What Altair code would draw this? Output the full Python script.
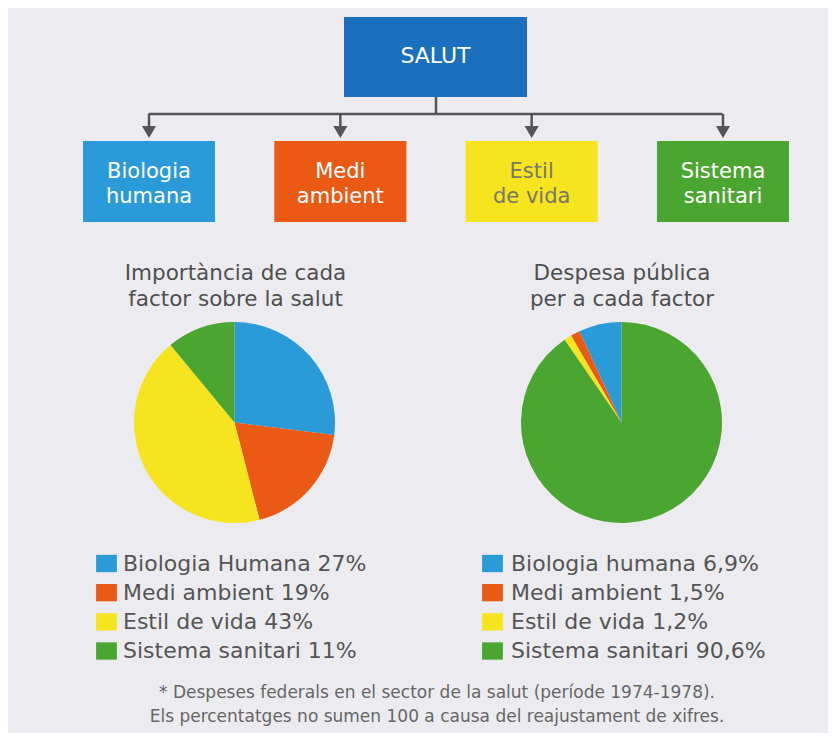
import altair as alt
import pandas as pd

# ---------------- data ----------------
root_label = "SALUT"
factors = ["Biologia humana", "Medi ambient", "Estil de vida", "Sistema sanitari"]
box_labels = ["Biologia\nhumana", "Medi\nambient", "Estil\nde vida", "Sistema\nsanitari"]

importance_labels = ["Biologia Humana", "Medi ambient", "Estil de vida", "Sistema sanitari"]
importance_pct = [27, 19, 43, 11]

spending_labels = ["Biologia humana", "Medi ambient", "Estil de vida", "Sistema sanitari"]
spending_pct = [6.9, 1.5, 1.2, 90.6]

left_title = "Importància de cada\nfactor sobre la salut"
right_title = "Despesa pública\nper a cada factor"
footnote = ("* Despeses federals en el sector de la salut (període 1974-1978).\n"
            "Els percentatges no sumen 100 a causa del reajustament de xifres.")

# ---------------- style ----------------
palette = ["#2b9ad8", "#ea5a15", "#f6e41e", "#4ba631"]
root_color = "#1a6fbe"
line_color = "#555555"
text_gray = "#4f4f4f"
FONT = "DejaVu Sans"
LEGEND_SHAPE = "M-1.2,-1H1.2V1H-1.2Z"


def fmt(v):
    return f"{v:g}".replace(".", ",")


color_enc = alt.Color("factor:N", scale=alt.Scale(domain=factors, range=palette), legend=None)
x_band = alt.X("factor:N", scale=alt.Scale(type="band", domain=factors, range=[75, 781],
                                           paddingInner=0.31, paddingOuter=0), axis=None)
x_mid = alt.X("factor:N", bandPosition=0.5,
              scale=alt.Scale(type="band", domain=factors, range=[75, 781],
                              paddingInner=0.31, paddingOuter=0), axis=None)
y_row = alt.Y("row:O", scale=alt.Scale(type="point", domain=[0, 1, 2, 3], range=[555.5, 643], padding=0),
              axis=None)

root_df = pd.DataFrame({"label": [root_label]})
factor_df = pd.DataFrame({"factor": factors, "label": box_labels})

# ---- tree diagram ----
root_box = alt.Chart(root_df).mark_rect(color=root_color).encode(
    x=alt.value(336), x2=alt.value(519), y=alt.value(9), y2=alt.value(89))
root_text = alt.Chart(root_df).mark_text(font=FONT, fontSize=22, color="white", baseline="middle").encode(
    x=alt.value(427.5), y=alt.value(48), text="label:N")
root_stem = alt.Chart(root_df).mark_rule(color=line_color, strokeWidth=2.5).encode(
    x=alt.value(428), y=alt.value(89), y2=alt.value(106))
hline = alt.Chart(root_df).mark_rule(color=line_color, strokeWidth=2.5).encode(
    x=alt.value(140.5), x2=alt.value(714.5), y=alt.value(106))
stems = alt.Chart(factor_df).mark_rule(color=line_color, strokeWidth=2.5).encode(
    x=x_mid, y=alt.value(106), y2=alt.value(118))
arrows = alt.Chart(factor_df).mark_point(shape="triangle-down", filled=True, size=200,
                                         color=line_color, opacity=1).encode(
    x=x_mid, y=alt.value(124))
boxes = alt.Chart(factor_df).mark_rect().encode(
    x=x_band, y=alt.value(133), y2=alt.value(214), color=color_enc)
box_text = alt.Chart(factor_df).mark_text(font=FONT, fontSize=21, lineBreak="\n", lineHeight=25,
                                          baseline="middle").encode(
    x=x_mid, y=alt.value(164), text="label:N",
    color=alt.when(alt.datum.factor == "Estil de vida").then(alt.value("#77776a")).otherwise(alt.value("white")))

# ---- titles ----
ltitle = alt.Chart(pd.DataFrame({"t": [left_title]})).mark_text(
    font=FONT, fontSize=21.5, lineBreak="\n", lineHeight=26, color=text_gray, baseline="middle").encode(
    x=alt.value(227.5), y=alt.value(266), text="t:N")
rtitle = alt.Chart(pd.DataFrame({"t": [right_title]})).mark_text(
    font=FONT, fontSize=21.5, lineBreak="\n", lineHeight=26, color=text_gray, baseline="middle").encode(
    x=alt.value(614), y=alt.value(266), text="t:N")

# ---- pies ----
left_df = pd.DataFrame({"factor": factors, "pct": importance_pct, "ord": [0, 1, 2, 3]})
right_df = pd.DataFrame({"factor": factors, "pct": spending_pct, "ord": [3, 2, 1, 0]})

left_pie = alt.Chart(left_df).mark_arc(radius=100.5).encode(
    theta=alt.Theta("pct:Q", stack=True), color=color_enc, order=alt.Order("ord:Q"),
    x=alt.value(226.5), y=alt.value(414.5))
right_pie = alt.Chart(right_df).mark_arc(radius=100.5).encode(
    theta=alt.Theta("pct:Q", stack=True), color=color_enc, order=alt.Order("ord:Q"),
    x=alt.value(613.5), y=alt.value(414.5))

# ---- legends ----
lleg_df = pd.DataFrame({"factor": factors, "row": [0, 1, 2, 3],
                        "text": [f"{l} {fmt(v)}%" for l, v in zip(importance_labels, importance_pct)]})
rleg_df = pd.DataFrame({"factor": factors, "row": [0, 1, 2, 3],
                        "text": [f"{l} {fmt(v)}%" for l, v in zip(spending_labels, spending_pct)]})


def legend(df, xs, xt):
    sq = alt.Chart(df).mark_point(shape=LEGEND_SHAPE, size=300, filled=True, opacity=1).encode(
        x=alt.value(xs), y=y_row, color=color_enc)
    tx = alt.Chart(df).mark_text(font=FONT, fontSize=22, align="left", baseline="middle",
                                 color="#555555").encode(
        x=alt.value(xt), y=y_row, text="text:N")
    return sq + tx


lleg = legend(lleg_df, 98.5, 115)
rleg = legend(rleg_df, 484.5, 503)

# ---- footnote ----
foot = alt.Chart(pd.DataFrame({"t": [footnote]})).mark_text(
    font=FONT, fontSize=17, lineBreak="\n", lineHeight=24, color="#666666", baseline="middle").encode(
    x=alt.value(429), y=alt.value(685), text="t:N")

chart = alt.layer(
    root_box, root_text, root_stem, hline, stems, arrows, boxes, box_text,
    ltitle, rtitle, left_pie, right_pie, lleg, rleg, foot
).resolve_scale(theta="independent").properties(
    width=820, height=725, padding=0,
    autosize=alt.AutoSizeParams(type="none"),
    background="#ececf0",
).configure_view(stroke=None)

chart.save("out.html", embed_options={"renderer": "svg", "actions": False})
